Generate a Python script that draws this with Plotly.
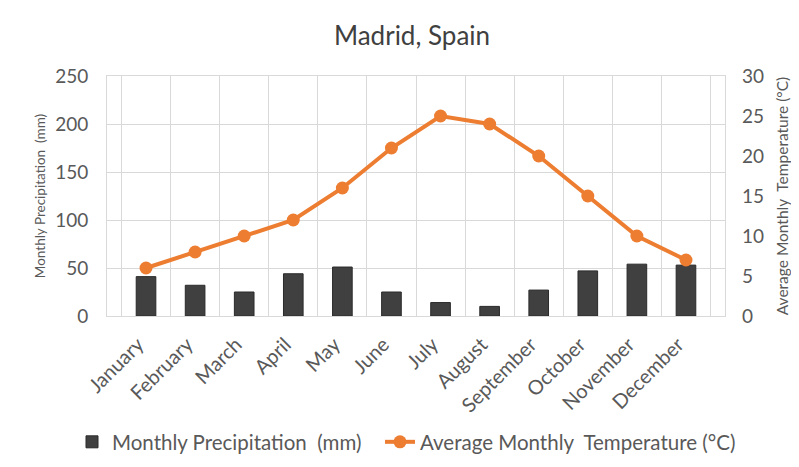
import plotly.graph_objects as go

months = ["January", "February", "March", "April", "May", "June", "July",
          "August", "September", "October", "November", "December"]
precip_mm = [41, 32, 25, 44, 51, 25, 14, 10, 27, 47, 54, 53]
temp_c = [6, 8, 10, 12, 16, 21, 25, 24, 20, 15, 10, 7]
left_ticks = [0, 50, 100, 150, 200, 250]
right_ticks = [0, 5, 10, 15, 20, 25, 30]

FONT = "Lato"
TXT = "#595959"

W, H = 783, 451
L, R, T, B = 99, 66, 68, 143
PW, PH = W - L - R, H - T - B

fig = go.Figure()
fig.add_trace(go.Bar(
    x=months, y=precip_mm, name="Monthly Precipitation  (mm)",
    marker=dict(color="#404040", line=dict(color="#2a2a2a", width=1)),
    yaxis="y", legend="legend",
))
fig.add_trace(go.Scatter(
    x=months, y=temp_c, name="Average Monthly  Temperature (°C)",
    mode="lines+markers",
    line=dict(color="#ED7D31", width=4),
    marker=dict(color="#ED7D31", size=13),
    yaxis="y2", legend="legend2",
))

leg_common = dict(orientation="h", xref="container", yref="container",
                  xanchor="left", yanchor="middle", y=1 - (442 - 8) / H,
                  font=dict(family=FONT, size=20.5, color=TXT), itemwidth=30,
                  bgcolor="rgba(0,0,0,0)")

fig.update_layout(
    width=W, height=H,
    margin=dict(l=L, r=R, t=T, b=B, autoexpand=False),
    paper_bgcolor="white", plot_bgcolor="white",
    font=dict(family=FONT, color=TXT),
    title=dict(text="Madrid, Spain", x=(412 - 8) / W, xanchor="center",
               y=1 - (36 - 8) / H, yanchor="middle",
               font=dict(family=FONT, size=26, color="#404040")),
    bargap=0.6,
    showlegend=True,
    legend=dict(leg_common, x=(72 - 8) / W),
    legend2=dict(leg_common, x=(380 - 8) / W),
    xaxis=dict(
        type="category", tickangle=-45, tickson="boundaries",
        showgrid=True, gridcolor="#d9d9d9", gridwidth=1,
        showline=True, linecolor="#d9d9d9", mirror=True,
        ticks="", ticklabelstandoff=8, ticklabelshift=-8,
        tickfont=dict(family=FONT, size=20, color=TXT),
    ),
    yaxis=dict(
        range=[0, 250], tickvals=left_ticks,
        showgrid=True, gridcolor="#d9d9d9", gridwidth=1,
        showline=True, linecolor="#d9d9d9", mirror=True, zeroline=False,
        tickfont=dict(family=FONT, size=19, color=TXT), ticklabelstandoff=14,
        title=dict(text="Monthly Precipitation  (mm)", standoff=6,
                   font=dict(family=FONT, size=13.5, color=TXT)),
    ),
    yaxis2=dict(
        range=[0, 30], tickvals=right_ticks, overlaying="y", side="right",
        showgrid=False, zeroline=False,
        tickfont=dict(family=FONT, size=19, color=TXT), ticklabelstandoff=16,
        title=dict(text="Average Monthly  Temperature (°C)", standoff=16,
                   font=dict(family=FONT, size=15.5, color=TXT)),
    ),
)

fig.write_html("out.html")
